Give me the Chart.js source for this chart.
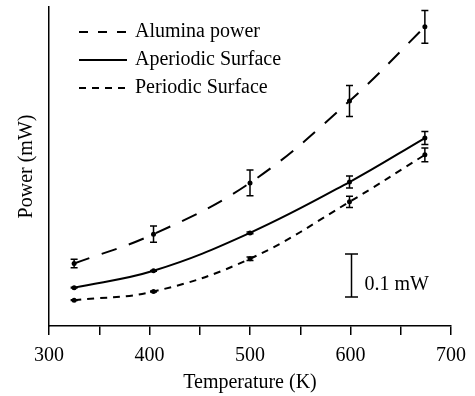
<!DOCTYPE html>
<html>
<head>
<meta charset="utf-8">
<script src="https://cdn.jsdelivr.net/npm/chart.js@4"></script>
<style>
  html, body { margin: 0; padding: 0; background: #fff; }
  #wrap { width: 475px; height: 396px; }
</style>
</head>
<body>
<div id="wrap"><canvas id="chart"></canvas></div>
<script>
// temperatures (K) where the power was measured
const temps = [325, 404, 500, 599, 674];

// power in mW, offset from an arbitrary baseline (the figure has no y ticks)
const alumina = [0.145, 0.213, 0.332, 0.522, 0.694];
const aluminaErr = [0.010, 0.019, 0.030, 0.036, 0.038];

const aperiodic = [0.089, 0.128, 0.216, 0.334, 0.436];
const aperiodicErr = [0.001, 0.001, 0.002, 0.014, 0.015];

const periodic = [0.060, 0.080, 0.156, 0.288, 0.397];
const periodicErr = [0.001, 0.001, 0.004, 0.013, 0.016];

const seriesLabels = ['Alumina power', 'Aperiodic Surface', 'Periodic Surface'];
const xTicks = [300, 400, 500, 600, 700];

const FONT = "'Liberation Serif', 'Times New Roman', serif";

function points(values) {
    return temps.map((t, i) => ({ x: t, y: values[i] }));
}

function makeSet(label, values, errors, dash) {
    return {
        label: label,
        data: points(values),
        errors: errors,
        borderColor: '#000',
        backgroundColor: '#000',
        borderWidth: 2,
        borderDash: dash,
        pointRadius: 2.5,
        pointBorderWidth: 0,
        pointBackgroundColor: '#000',
        tension: 0.4,
        fill: false
    };
}

// vertical error bars with small caps
const errorBars = {
    id: 'errorBars',
    afterDatasetsDraw(chart) {
        const { ctx, scales: { x, y } } = chart;
        ctx.save();
        ctx.strokeStyle = '#000';
        ctx.lineWidth = 1.5;
        chart.data.datasets.forEach(ds => {
            ds.data.forEach((p, i) => {
                const e = ds.errors[i];
                if (!e) return;
                const px = x.getPixelForValue(p.x);
                const top = y.getPixelForValue(p.y + e);
                const bot = y.getPixelForValue(p.y - e);
                ctx.beginPath();
                ctx.moveTo(px, top);
                ctx.lineTo(px, bot);
                ctx.moveTo(px - 3.5, top);
                ctx.lineTo(px + 3.5, top);
                ctx.moveTo(px - 3.5, bot);
                ctx.lineTo(px + 3.5, bot);
                ctx.stroke();
            });
        });
        ctx.restore();
    }
};

// legend drawn inside the plot, top left
const innerLegend = {
    id: 'innerLegend',
    afterDraw(chart) {
        const { ctx, chartArea } = chart;
        const x0 = chartArea.left + 30;
        ctx.save();
        ctx.font = '20px ' + FONT;
        ctx.fillStyle = '#000';
        ctx.textBaseline = 'middle';
        chart.data.datasets.forEach((ds, i) => {
            const yy = chartArea.top + 25 + i * 28;
            ctx.strokeStyle = '#000';
            ctx.lineWidth = 2;
            ctx.setLineDash(i === 0 ? [9, 10] : ds.borderDash);
            ctx.beginPath();
            ctx.moveTo(x0, yy);
            ctx.lineTo(x0 + 48, yy);
            ctx.stroke();
            ctx.setLineDash([]);
            ctx.fillText(ds.label, x0 + 56, yy);
        });
        ctx.restore();
    }
};

// "0.1 mW" scale bar
const scaleBar = {
    id: 'scaleBar',
    afterDraw(chart) {
        const { ctx, scales: { x, y } } = chart;
        const px = x.getPixelForValue(601);
        const top = y.getPixelForValue(0.167);
        const bot = y.getPixelForValue(0.067);
        ctx.save();
        ctx.strokeStyle = '#000';
        ctx.lineWidth = 1.5;
        ctx.beginPath();
        ctx.moveTo(px, top);
        ctx.lineTo(px, bot);
        ctx.moveTo(px - 6.5, top);
        ctx.lineTo(px + 6.5, top);
        ctx.moveTo(px - 6.5, bot);
        ctx.lineTo(px + 6.5, bot);
        ctx.stroke();
        ctx.font = '20px ' + FONT;
        ctx.fillStyle = '#000';
        ctx.textBaseline = 'middle';
        ctx.fillText('0.1 mW', px + 13, bot - 12);
        ctx.restore();
    }
};

new Chart(document.getElementById('chart'), {
    type: 'line',
    data: {
        datasets: [
            makeSet(seriesLabels[0], alumina, aluminaErr, [16, 13]),
            makeSet(seriesLabels[1], aperiodic, aperiodicErr, []),
            makeSet(seriesLabels[2], periodic, periodicErr, [7, 6])
        ]
    },
    options: {
        responsive: true,
        maintainAspectRatio: false,
        animation: false,
        layout: {
            padding: { left: 10, top: 7, right: 23, bottom: 0 }
        },
        plugins: {
            legend: { display: false },
            tooltip: { enabled: false }
        },
        scales: {
            x: {
                type: 'linear',
                min: 300,
                max: 700,
                ticks: {
                    stepSize: 50,
                    autoSkip: false,
                    maxRotation: 0,
                    padding: 9,
                    color: '#000',
                    font: { family: FONT, size: 20 },
                    callback: v => xTicks.includes(v) ? v : ''
                },
                grid: {
                    drawOnChartArea: false,
                    tickLength: 9,
                    color: '#000',
                    lineWidth: 1.5
                },
                border: { color: '#000', width: 1.5 },
                title: {
                    display: true,
                    text: 'Temperature (K)',
                    color: '#000',
                    font: { family: FONT, size: 20 },
                    padding: { top: -6, bottom: 1 }
                }
            },
            y: {
                min: 0,
                max: 0.74,
                ticks: { display: false },
                grid: { drawOnChartArea: false, drawTicks: false },
                border: { color: '#000', width: 1.5 },
                title: {
                    display: true,
                    text: 'Power (mW)',
                    color: '#000',
                    font: { family: FONT, size: 20 },
                    padding: { top: 5, bottom: 10 }
                }
            }
        }
    },
    plugins: [errorBars, innerLegend, scaleBar]
});
</script>
</body>
</html>
